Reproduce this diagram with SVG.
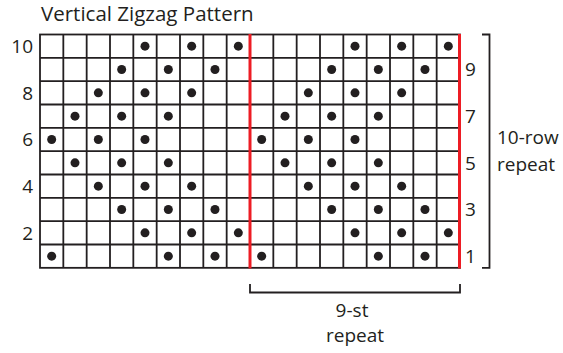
<svg xmlns="http://www.w3.org/2000/svg" xmlns:xlink="http://www.w3.org/1999/xlink" width="563" height="353" viewBox="0 0 563 353">
  <style>
    .t { font-family: "Open Sans", "Noto Sans", "Liberation Sans", sans-serif; font-size: 19px; fill: #231f20; }
    .title { font-size: 20.5px; }
    .grid { stroke: #231f20; stroke-width: 1.8; fill: none; }
    .red { stroke: #ed1c24; stroke-width: 3; fill: none; }
    .br { stroke: #231f20; stroke-width: 1.8; fill: none; }
    .dot { fill: #231f20; }
  </style>
  <defs>
    <circle id="d" r="4.5" class="dot"/>
  </defs>
  <rect width="563" height="353" fill="#ffffff"/>
  <g id="title">
    <text class="t title" x="41" y="21">Vertical Zigzag Pattern</text>
  </g>
  <g id="grid">
    <rect x="40" y="34.5" width="420" height="233.33" fill="#ffffff" class="grid"/>
    <path class="grid" d="M63.33 34.5V267.83M86.67 34.5V267.83M110 34.5V267.83M133.33 34.5V267.83M156.67 34.5V267.83M180 34.5V267.83M203.33 34.5V267.83M226.67 34.5V267.83M273.33 34.5V267.83M296.67 34.5V267.83M320 34.5V267.83M343.33 34.5V267.83M366.67 34.5V267.83M390 34.5V267.83M413.33 34.5V267.83M436.67 34.5V267.83M40 57.83H460M40 81.17H460M40 104.5H460M40 127.83H460M40 151.17H460M40 174.5H460M40 197.83H460M40 221.17H460M40 244.5H460"/>
  </g>
  <g id="dots">
    <use xlink:href="#d" x="145" y="46.17"/><use xlink:href="#d" x="191.67" y="46.17"/><use xlink:href="#d" x="238.33" y="46.17"/><use xlink:href="#d" x="355" y="46.17"/><use xlink:href="#d" x="401.67" y="46.17"/><use xlink:href="#d" x="448.33" y="46.17"/>
    <use xlink:href="#d" x="121.67" y="69.5"/><use xlink:href="#d" x="168.33" y="69.5"/><use xlink:href="#d" x="215" y="69.5"/><use xlink:href="#d" x="331.67" y="69.5"/><use xlink:href="#d" x="378.33" y="69.5"/><use xlink:href="#d" x="425" y="69.5"/>
    <use xlink:href="#d" x="98.33" y="92.83"/><use xlink:href="#d" x="145" y="92.83"/><use xlink:href="#d" x="191.67" y="92.83"/><use xlink:href="#d" x="308.33" y="92.83"/><use xlink:href="#d" x="355" y="92.83"/><use xlink:href="#d" x="401.67" y="92.83"/>
    <use xlink:href="#d" x="75" y="116.17"/><use xlink:href="#d" x="121.67" y="116.17"/><use xlink:href="#d" x="168.33" y="116.17"/><use xlink:href="#d" x="285" y="116.17"/><use xlink:href="#d" x="331.67" y="116.17"/><use xlink:href="#d" x="378.33" y="116.17"/>
    <use xlink:href="#d" x="51.67" y="139.5"/><use xlink:href="#d" x="98.33" y="139.5"/><use xlink:href="#d" x="145" y="139.5"/><use xlink:href="#d" x="261.67" y="139.5"/><use xlink:href="#d" x="308.33" y="139.5"/><use xlink:href="#d" x="355" y="139.5"/>
    <use xlink:href="#d" x="75" y="162.83"/><use xlink:href="#d" x="121.67" y="162.83"/><use xlink:href="#d" x="168.33" y="162.83"/><use xlink:href="#d" x="285" y="162.83"/><use xlink:href="#d" x="331.67" y="162.83"/><use xlink:href="#d" x="378.33" y="162.83"/>
    <use xlink:href="#d" x="98.33" y="186.17"/><use xlink:href="#d" x="145" y="186.17"/><use xlink:href="#d" x="191.67" y="186.17"/><use xlink:href="#d" x="308.33" y="186.17"/><use xlink:href="#d" x="355" y="186.17"/><use xlink:href="#d" x="401.67" y="186.17"/>
    <use xlink:href="#d" x="121.67" y="209.5"/><use xlink:href="#d" x="168.33" y="209.5"/><use xlink:href="#d" x="215" y="209.5"/><use xlink:href="#d" x="331.67" y="209.5"/><use xlink:href="#d" x="378.33" y="209.5"/><use xlink:href="#d" x="425" y="209.5"/>
    <use xlink:href="#d" x="145" y="232.83"/><use xlink:href="#d" x="191.67" y="232.83"/><use xlink:href="#d" x="238.33" y="232.83"/><use xlink:href="#d" x="355" y="232.83"/><use xlink:href="#d" x="401.67" y="232.83"/><use xlink:href="#d" x="448.33" y="232.83"/>
    <use xlink:href="#d" x="51.67" y="256.17"/><use xlink:href="#d" x="168.33" y="256.17"/><use xlink:href="#d" x="215" y="256.17"/><use xlink:href="#d" x="261.67" y="256.17"/><use xlink:href="#d" x="378.33" y="256.17"/><use xlink:href="#d" x="425" y="256.17"/>
  </g>
  <g id="repeat-lines">
    <line class="red" x1="250" y1="34" x2="250" y2="268.5"/>
    <line class="red" x1="459.5" y1="34" x2="459.5" y2="268.5"/>
  </g>
  <g id="row-labels-left">
    <text class="t" x="33" y="53" text-anchor="end">10</text>
    <text class="t" x="33" y="99.7" text-anchor="end">8</text>
    <text class="t" x="33" y="146.3" text-anchor="end">6</text>
    <text class="t" x="33" y="193" text-anchor="end">4</text>
    <text class="t" x="33" y="239.7" text-anchor="end">2</text>
  </g>
  <g id="row-labels-right">
    <text class="t" x="465" y="76.3">9</text>
    <text class="t" x="465" y="123">7</text>
    <text class="t" x="465" y="169.7">5</text>
    <text class="t" x="465" y="216.3">3</text>
    <text class="t" x="465" y="263">1</text>
  </g>
  <g id="row-repeat">
    <path class="br" d="M482 34.5H489.5V267.8H482"/>
    <text class="t" x="497" y="144">10-row</text>
    <text class="t" x="497" y="171">repeat</text>
  </g>
  <g id="st-repeat">
    <path class="br" d="M250 284V292.5H460V284"/>
    <text class="t" x="352" y="317" text-anchor="middle">9-st</text>
    <text class="t" x="355" y="342" text-anchor="middle">repeat</text>
  </g>
</svg>
